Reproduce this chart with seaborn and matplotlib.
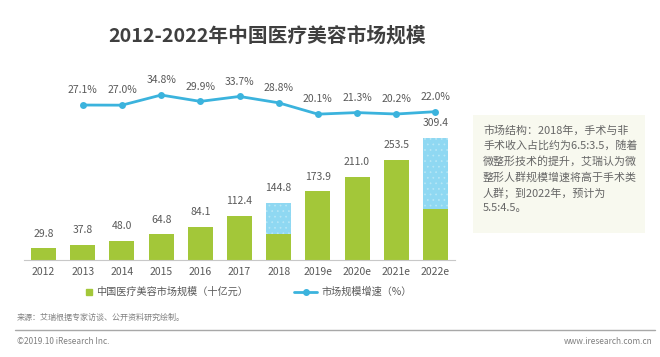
import numpy as np
import pandas as pd
import seaborn as sns
import matplotlib.pyplot as plt
from matplotlib.lines import Line2D
from matplotlib.patches import Rectangle

# data
years = ["2012", "2013", "2014", "2015", "2016", "2017", "2018",
         "2019e", "2020e", "2021e", "2022e"]
market_size = [29.8, 37.8, 48.0, 64.8, 84.1, 112.4, 144.8,
               173.9, 211.0, 253.5, 309.4]
# green (lower) part of the split bars
green_part = [29.8, 37.8, 48.0, 64.8, 84.1, 112.4, 65.0,
              173.9, 211.0, 253.5, 130.0]
growth = [np.nan, 27.1, 27.0, 34.8, 29.9, 33.7, 28.8,
          20.1, 21.3, 20.2, 22.0]
growth_labels = ["", "27.1%", "27.0%", "34.8%", "29.9%", "33.7%", "28.8%",
                 "20.1%", "21.3%", "20.2%", "22.0%"]
split_years = ["2018", "2022e"]

note_lines = ["市场结构：2018年，手术与非",
              "手术收入占比约为6.5:3.5，随着",
              "微整形技术的提升，艾瑞认为微",
              "整形人群规模增速将高于手术类",
              "人群；到2022年，预计为",
              "5.5:4.5。"]

sns.set_style("white")
plt.rcParams['font.family'] = ['Noto Sans CJK SC', 'DejaVu Sans']
plt.rcParams['hatch.linewidth'] = 0.5

GREEN = "#a3c739"
BLUE = "#8fd8f2"
LINE = "#3bb3dd"
TXT = "#595959"

df = pd.DataFrame({"year": years, "total": market_size, "green": green_part,
                   "growth": growth, "pos": np.arange(len(years))})

fig = plt.figure(figsize=(6.6, 3.57), dpi=100)
ax = fig.add_axes([24 / 660, 97 / 357, 431 / 660, 175 / 357])

# total bars (blue tops for the split years), then green on top
top_colors = [BLUE if y in split_years else GREEN for y in years]
sns.barplot(data=df, x="year", y="total", hue="year", palette=top_colors,
            legend=False, width=0.64, ax=ax, saturation=1)
for patch, y in zip(ax.patches, years):
    patch.set_linewidth(0)
    if y in split_years:
        patch.set_hatch("...")
        patch.set_edgecolor("#b8e7f6")
n_before = len(ax.patches)
sns.barplot(data=df, x="year", y="green", color=GREEN, width=0.64, ax=ax,
            saturation=1)
for patch in ax.patches[n_before:]:
    patch.set_linewidth(0)

for i, v in enumerate(market_size):
    ax.annotate(f"{v:.1f}", (i, v), xytext=(0, 7), textcoords="offset points",
                ha="center", va="bottom", fontsize=7.5, color=TXT)

ax.set_ylim(0, 444)
ax.set_xlim(-0.5, len(years) - 0.5)
ax.set_xlabel("")
ax.set_ylabel("")
ax.set_yticks([])
ax.tick_params(axis="x", length=0, labelsize=7.5, labelcolor=TXT, pad=5)
for s in ["top", "right", "left"]:
    ax.spines[s].set_visible(False)
ax.spines["bottom"].set_color("#c8c8c8")
ax.spines["bottom"].set_linewidth(0.8)

# growth line
ax2 = ax.twinx()
sns.lineplot(data=df, x="pos", y="growth", color=LINE, linewidth=2,
             marker="o", markersize=5, markeredgewidth=0, ax=ax2)
for i, (v, lab) in enumerate(zip(growth, growth_labels)):
    if lab:
        ax2.annotate(lab, (i, v), xytext=(0, 7), textcoords="offset points",
                     ha="center", va="bottom", fontsize=7.5, color=TXT)
ax2.set_ylim(-92, 42.5)
ax2.set_yticks([])
ax2.set_ylabel("")
ax2.set_xlabel("")
for s in ["top", "right", "left", "bottom"]:
    ax2.spines[s].set_visible(False)

# title
fig.text(267 / 660, 1 - 36 / 357, "2012-2022年中国医疗美容市场规模",
         ha="center", va="center", fontsize=14.2, fontweight="bold",
         color="#3f3f3f")

# legends
h1 = Line2D([], [], marker="s", color=GREEN, linestyle="none", markersize=4)
h2 = Line2D([], [], marker="o", color=LINE, linewidth=2, markersize=4)
fig.legend([h1], ["中国医疗美容市场规模（十亿元）"], loc="center left",
           bbox_to_anchor=(80 / 660, 1 - 292 / 357), frameon=False,
           fontsize=7.3, handlelength=0.8, handletextpad=0.3,
           labelcolor=TXT, borderpad=0)
fig.legend([h2], ["市场规模增速（%）"], loc="center left",
           bbox_to_anchor=(289 / 660, 1 - 292 / 357), frameon=False,
           fontsize=7.3, handlelength=2.3, handletextpad=0.4,
           labelcolor=TXT, borderpad=0)

# note box
fig.patches.append(Rectangle((473 / 660, 1 - 233 / 357), 172 / 660, 118 / 357,
                             transform=fig.transFigure, facecolor="#f8f9ef",
                             edgecolor="none", zorder=0))
fig.text(483 / 660, 1 - 125 / 357, "\n".join(note_lines), ha="left", va="top",
         fontsize=7.9, color="#666666", linespacing=1.55)

# footer
fig.text(17 / 660, 1 - 317 / 357, "来源：艾瑞根据专家访谈、公开资料研究绘制。",
         ha="left", va="center", fontsize=5.8, color="#808080")
fig.add_artist(Line2D([15 / 660, 655 / 660], [1 - 330 / 357, 1 - 330 / 357],
                      transform=fig.transFigure, color="#a8a8a8", linewidth=1))
fig.text(17 / 660, 1 - 342 / 357, "©2019.10 iResearch Inc.",
         ha="left", va="center", fontsize=6, color="#808080")
fig.text(653 / 660, 1 - 342 / 357, "www.iresearch.com.cn",
         ha="right", va="center", fontsize=6, color="#808080")

fig.savefig("out.png", dpi=100)
